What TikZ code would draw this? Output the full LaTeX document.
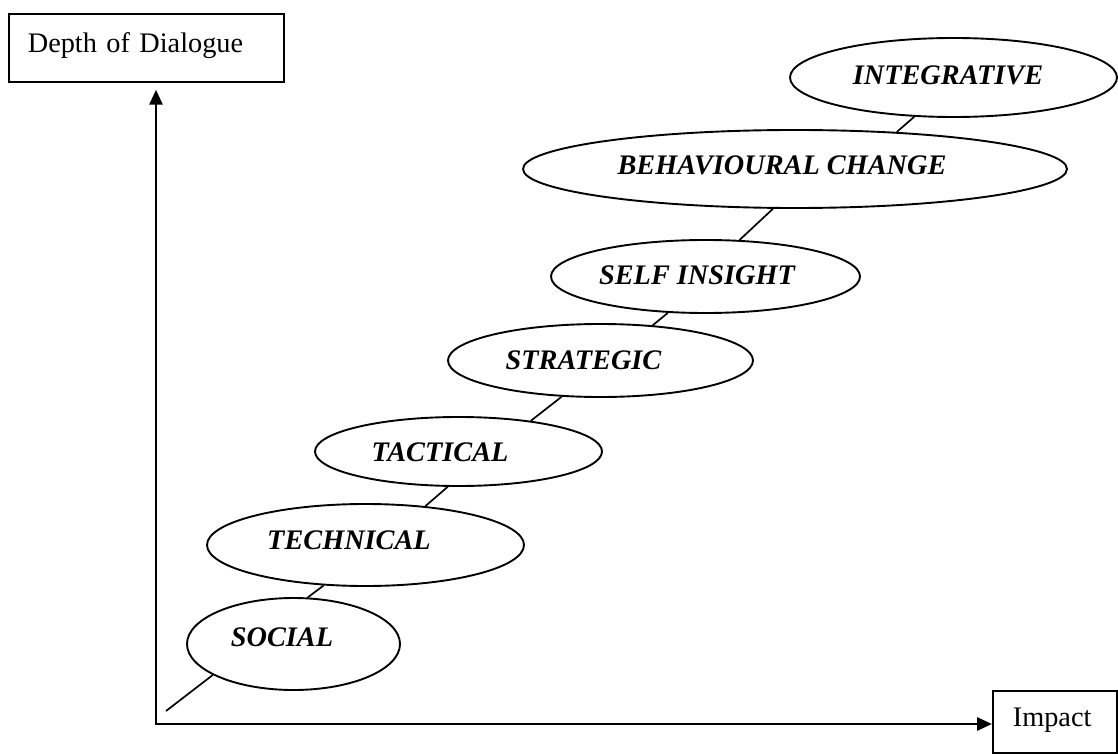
\documentclass[tikz,border=0pt]{standalone}
\usepackage{fontspec}
\setmainfont{Liberation Serif}
\usetikzlibrary{arrows.meta,calc,shapes.geometric}
\begin{document}
\begin{tikzpicture}[x=0.5pt,y=-0.5pt,
  stage/.style={draw, ellipse, line width=0.95pt, inner sep=0pt},
  stagetext/.style={font=\fontsize{14.15}{17}\selectfont\bfseries\itshape, inner sep=0pt},
  link/.style={line width=0.85pt},
  axis/.style={line width=1.4pt, {Triangle[length=7.5pt,width=6.5pt]}-{Triangle[length=7.5pt,width=6.5pt]}},
  labelbox/.style={draw, line width=0.85pt, rectangle, inner ysep=0pt, align=left, font=\fontsize{14.15}{17}\selectfont}]
\useasboundingbox (0,0) rectangle (1118,754);

\node[labelbox, anchor=north west, text width=118.5pt, text height=19.5pt, text depth=14.5pt, inner xsep=9.5pt] (depth) at (8,13) {Depth of Dialogue};
\node[labelbox, anchor=north west, text width=42pt, text height=18pt, text depth=13pt, inner xsep=10pt] (impact) at (992,690) {Impact};

\coordinate (corner) at (156,724);
\draw[axis] ($(corner |- depth.south)+(0,7)$) -- (corner) -- (corner -| impact.west);

\node[stage, minimum width=106.5pt, minimum height=46pt] (social) at (293.5,644) {};
\node[stage, minimum width=158.5pt, minimum height=41pt] (technical) at (365.5,545) {};
\node[stage, minimum width=143.5pt, minimum height=34.5pt] (tactical) at (458.5,451.5) {};
\node[stage, minimum width=152.5pt, minimum height=36.5pt] (strategic) at (600.5,360.5) {};
\node[stage, minimum width=154.5pt, minimum height=36.5pt] (selfinsight) at (705.5,276.5) {};
\node[stage, minimum width=272pt, minimum height=39pt] (behavioural) at (795,169) {};
\node[stage, minimum width=163.5pt, minimum height=39.5pt] (integrative) at (953.5,77.5) {};

\node[stagetext] (socialt) at (282,637) {SOCIAL};
\node[stagetext] (technicalt) at (349,540) {TECHNICAL};
\node[stagetext] (tacticalt) at (440,452) {TACTICAL};
\node[stagetext] (strategict) at (583.5,360) {STRATEGIC};
\node[stagetext] (selfinsightt) at (697,275) {SELF INSIGHT};
\node[stagetext] (behaviouralt) at (782,165) {BEHAVIOURAL CHANGE};
\node[stagetext] (integrativet) at (948,75) {INTEGRATIVE};

\coordinate (start) at (166,711);
\draw[link] (start) -- (social.201.4);
\draw[link] (social.73.3) -- (technical.224.6);
\draw[link] (technical.33.9) -- (tactical.253.5);
\draw[link] (tactical.23.2) -- (strategic.223.4);
\draw[link] (strategic.34.6) -- (selfinsight.224.2);
\draw[link] (selfinsight.47.5) -- (behavioural.241.8);
\draw[link] (behavioural.20.4) -- (integrative.225.7);
\end{tikzpicture}
\end{document}
